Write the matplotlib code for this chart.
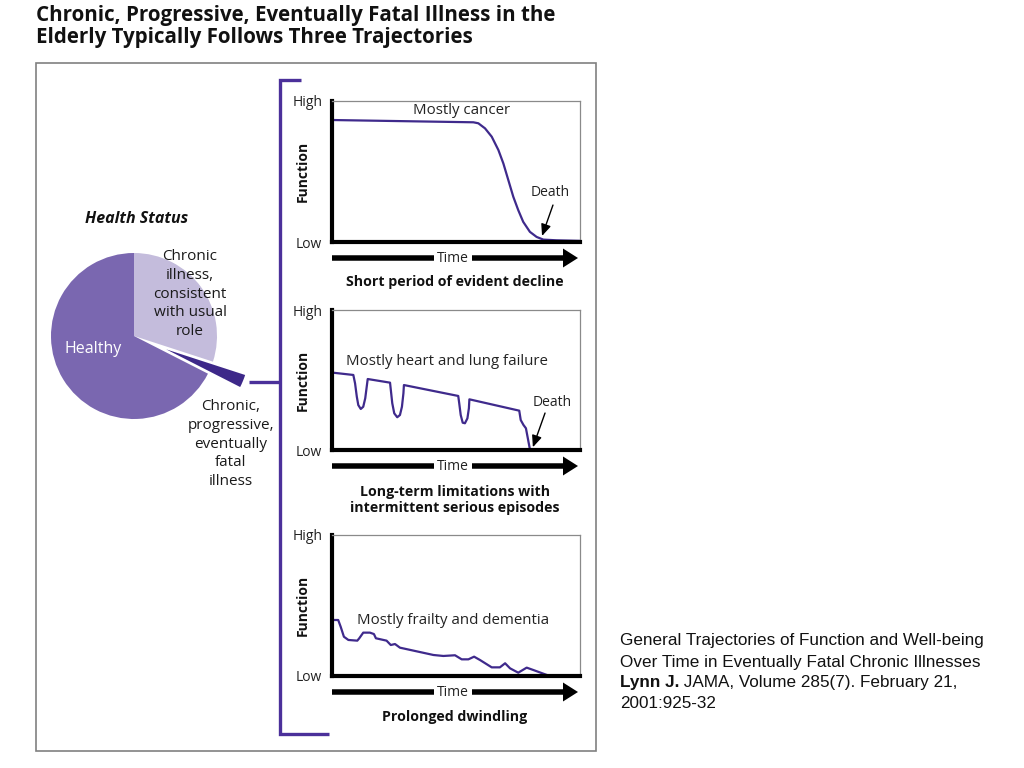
import matplotlib
matplotlib.use('Agg')
import matplotlib.pyplot as plt
from matplotlib.patches import FancyArrow, Rectangle

# ---------------- data ----------------
title_lines = ["Chronic, Progressive, Eventually Fatal Illness in the",
               "Elderly Typically Follows Three Trajectories"]

pie_title = "Health Status"
pie_labels = ["Chronic\nillness,\nconsistent\nwith usual\nrole",
              "Chronic,\nprogressive,\neventually\nfatal\nillness",
              "Healthy"]
pie_values = [30, 2.5, 67.5]

ytick_labels = ["Low", "High"]
y_label = "Function"
x_label = "Time"

p1_x = [0.5, 57, 59, 61.7, 64.4, 67.1, 69.1, 71.1, 73.1, 75.1, 77.1, 79.8, 82.5, 85.2, 90.5, 100]
p1_y = [86.5, 84.9, 84.2, 80.6, 74.7, 65.2, 55.7, 43.9, 32.1, 22.6, 14.3, 7.2, 3.6, 1.7, 1.2, 0.8]

p2_x = [0.5, 8.6, 9.3, 10.0, 10.6, 11.6, 12.6, 13.4, 14.0, 14.4,
        23.4, 23.8, 24.3, 25.1, 26.3, 27.4, 28.2, 28.8, 29.0,
        50.9, 51.3, 51.9, 52.7, 53.6, 54.6, 55.2, 55.4,
        75.5, 76.1, 77.2, 78.2, 79.8]
p2_y = [55.2, 53.6, 47.6, 38.1, 32.1, 29.3, 30.9, 36.9, 45.2, 50.7,
        48.1, 41.6, 33.4, 26.2, 23.4, 25.0, 30.9, 40.5, 46.4,
        38.6, 33.4, 25.0, 19.5, 19.1, 22.6, 29.8, 36.2,
        28.1, 21.4, 17.9, 15.5, 0.5]

p3_x = [0.5, 2.5, 3.5, 4.8, 6.6, 10.2, 11, 12.6, 15.3, 16.9, 17.7, 22, 23.7, 25.4, 27.4,
        40.9, 44.9, 49.6, 52.3, 55, 57.3, 59.7, 64.4, 67.7, 69.8, 71.8, 75.1, 78.5, 81.2, 86.6]
p3_y = [39.5, 39.5, 34.7, 27.6, 25.3, 24.8, 26.5, 30.5, 30.5, 29.5, 26.5, 24.8, 21.7, 22.4, 19.8,
        14.6, 13.9, 14.4, 11.5, 11.5, 13.4, 11, 5.8, 5.8, 8.7, 5.1, 2, 5.6, 3.9, 0.4]

panel_names = ["Mostly cancer", "Mostly heart and lung failure", "Mostly frailty and dementia"]
panel_captions = ["Short period of evident decline",
                  "Long-term limitations with\nintermittent serious episodes",
                  "Prolonged dwindling"]
death_label = "Death"

caption_lines = ["General Trajectories of Function and Well-being",
                 "Over Time in Eventually Fatal Chronic Illnesses"]
caption_bold = "Lynn J."
caption_rest = " JAMA, Volume 285(7). February 21,"
caption_last = "2001:925-32"

# ---------------- style ----------------
FONT = ['Open Sans', 'DejaVu Sans']
plt.rcParams['font.family'] = FONT
PURPLE = '#3f2a8c'
BRACKET = '#4b309a'
C_HEALTHY = '#7a67b0'
C_LIGHT = '#c4bcdc'
C_DARK = '#3d2889'
W, H = 1024, 768

fig = plt.figure(figsize=(W / 100, H / 100), dpi=100)
fig.patch.set_facecolor('white')

# overlay in pixel coordinates
ov = fig.add_axes([0, 0, 1, 1], zorder=0)
ov.set_xlim(0, W)
ov.set_ylim(H, 0)
ov.axis('off')

# title
ov.text(36, 15, title_lines[0], fontsize=14.8, fontweight='bold', ha='left', va='center', color='#111')
ov.text(36, 38, title_lines[1], fontsize=14.8, fontweight='bold', ha='left', va='center', color='#111')

# outer gray box
ov.add_patch(Rectangle((36, 63), 596 - 36, 751 - 63, fill=False, edgecolor='#808080', lw=1.2))

# bracket
ov.plot([301, 279.5, 279.5, 329], [80, 80, 734, 734], color=BRACKET, lw=2.4,
        solid_joinstyle='miter', solid_capstyle='butt')
ov.plot([249, 279.5], [382, 382], color=BRACKET, lw=2.4, solid_capstyle='butt')

# pie
R = 83
L = 1.5
S = 2 * R * L
cx, cy = 134, 336
pax = fig.add_axes([(cx - S / 2) / W, 1 - (cy + S / 2) / H, S / W, S / H], zorder=3)
pax.patch.set_alpha(0)
pax.pie(pie_values, colors=[C_LIGHT, C_DARK, C_HEALTHY], startangle=90, counterclock=False,
        explode=[0, 0.42, 0], radius=1, frame=False,
        wedgeprops=dict(linewidth=0))
pax.set_xlim(-L, L)
pax.set_ylim(-L, L)
pax.set_aspect('equal')
pax.axis('off')

ov.text(137, 219, pie_title, fontsize=11.5, fontweight='bold', style='italic', ha='center', va='center',
        color='#111')
ov.text(231, 444, pie_labels[1], fontsize=11, ha='center', va='center', color='#1a1a1a',
        linespacing=1.32)
fig.text(93 / W, 1 - 349 / H, pie_labels[2], fontsize=11.5, ha='center', va='center', color='white',
         zorder=10)
fig.text(190 / W, 1 - 294 / H, pie_labels[0], fontsize=11, ha='center', va='center', color='#1a1a1a',
         linespacing=1.32, zorder=10)

# panels
panels = [
    dict(top=101, bot=242, x=p1_x, y=p1_y, name_xy=(52.4, 93.6), death_xy=(87.9, 34.8),
         arr_from=(89.1, 26.2), arr_to=(84.7, 4.3), time_y=258, cap_y=282),
    dict(top=310, bot=450, x=p2_x, y=p2_y, name_xy=(46.4, 62.9), death_xy=(88.7, 33.6),
         arr_from=(85.9, 26.4), arr_to=(81.0, 2.0), time_y=466, cap_y=500),
    dict(top=535, bot=675.5, x=p3_x, y=p3_y, name_xy=(48.7, 39.5), death_xy=None,
         arr_from=None, arr_to=None, time_y=692, cap_y=717),
]
AX_L, AX_R = 332, 580
for i, p in enumerate(panels):
    ax = fig.add_axes([AX_L / W, 1 - p['bot'] / H, (AX_R - AX_L) / W, (p['bot'] - p['top']) / H], zorder=2)
    ax.set_xlim(0, 100)
    ax.set_ylim(0, 100)
    ax.plot(p['x'], p['y'], color=PURPLE, lw=1.6, solid_joinstyle='round', clip_on=False)
    for s in ['top', 'right']:
        ax.spines[s].set_color('#8a8a8a')
        ax.spines[s].set_linewidth(0.9)
    for s in ['left', 'bottom']:
        ax.spines[s].set_color('black')
        ax.spines[s].set_linewidth(3.0)
    ax.set_xticks([])
    ax.set_yticks([0, 100])
    ax.set_yticklabels(ytick_labels, fontsize=10, color='#222')
    ax.tick_params(axis='y', length=0, pad=7)
    ax.set_ylabel(y_label, fontsize=10, fontweight='bold', color='#111')
    ax.yaxis.set_label_coords(-22 / 248, 0.5)
    ax.text(*p['name_xy'], panel_names[i], fontsize=10.8, ha='center', va='center', color='#222')
    if p['death_xy'] is not None:
        ax.text(*p['death_xy'], death_label, fontsize=10, ha='center', va='center', color='#222')
        ax.annotate('', xy=p['arr_to'], xytext=p['arr_from'],
                    arrowprops=dict(arrowstyle='-|>,head_length=0.7,head_width=0.3', color='black',
                                    lw=1.0, shrinkA=0, shrinkB=0))
    # time arrow
    ty = p['time_y']
    ov.add_patch(FancyArrow(332, ty, 246, 0, width=5.5, head_width=19, head_length=15,
                            length_includes_head=True, color='black', lw=0))
    ov.text(453, ty, x_label, fontsize=10, ha='center', va='center', color='#222',
            bbox=dict(facecolor='white', edgecolor='none', pad=2.5))
    ov.text(455, p['cap_y'], panel_captions[i], fontsize=10.2, fontweight='bold', ha='center',
            va='center', color='#111', linespacing=1.25)

# caption
CF = ['Liberation Sans', 'DejaVu Sans']
CS = 12.3
ov.text(620, 641, caption_lines[0], fontsize=CS, family=CF, ha='left', va='center', color='#111')
ov.text(620, 662, caption_lines[1], fontsize=CS, family=CF, ha='left', va='center', color='#111')
tb = ov.text(620, 683, caption_bold, fontsize=CS, family=CF, fontweight='bold', ha='left', va='center',
             color='#111')
ov.text(620, 704, caption_last, fontsize=CS, family=CF, ha='left', va='center', color='#111')
fig.canvas.draw()
bb = tb.get_window_extent()
ov.text(bb.x1, 683, caption_rest, fontsize=CS, family=CF, ha='left', va='center', color='#111')

fig.savefig('out.png', dpi=100, facecolor='white')
